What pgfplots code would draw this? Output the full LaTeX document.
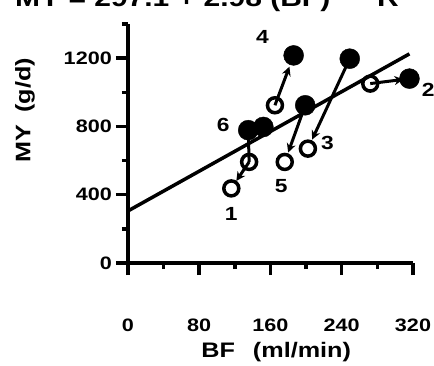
\documentclass[border=0pt]{standalone}
\usepackage{fontspec}
\setmainfont{Liberation Sans}[FakeStretch=1.2]
\usepackage{pgfplots}
\pgfplotsset{compat=1.18}
\usetikzlibrary{arrows.meta}
\begin{document}
\begin{tikzpicture}
\begin{axis}[
  at={(0pt,0pt)}, anchor=south west,
  scale only axis, width=285pt, height=239pt,
  xmin=0, xmax=320, ymin=0, ymax=1400,
  axis lines=left, axis line style={-, line width=3.5pt},
  xtick={0,80,160,240,320}, minor xtick={40,120,200,280},
  ytick={0,400,800,1200}, minor ytick={200,600,1000,1400},
  tick align=outside, major tick length=12pt, minor tick length=6pt,
  every tick/.style={black, line width=3.5pt},
  /pgf/number format/assume math mode=true,
  /pgf/number format/1000 sep={},
  tick label style={font=\bfseries\fontsize{18}{20}\selectfont, inner sep=0pt},
  xticklabel style={anchor=center, yshift=-50pt},
  yticklabel style={anchor=east, xshift=-4pt},
  xlabel={BF\hspace{18pt}(ml/min)},
  ylabel={MY\hspace{12pt}(g/d)},
  label style={font=\bfseries\fontsize{21}{23}\selectfont, inner sep=0pt},
  xlabel style={at={(axis description cs:0.52,0)}, anchor=center, yshift=-89pt},
  ylabel style={at={(axis description cs:-0.361,0.64)}, anchor=center},
  clip=false,
]
% regression line
\addplot[black, line width=3.5pt] coordinates {(0,305) (316,1225)};
% arrows between conditions
\addplot[black, line width=3pt] coordinates {(135,778) (136,592)};
\addplot[black, line width=3pt, -{Stealth[length=9pt,width=9pt]}, shorten >=9pt] coordinates {(136,592) (116,437)};
\addplot[black, line width=3pt, -{Stealth[length=9pt,width=9pt]}, shorten >=12pt] coordinates {(165,924) (186,1216)};
\addplot[black, line width=3pt, -{Stealth[length=9pt,width=9pt]}, shorten >=6pt] coordinates {(272,1051) (316,1080)};
\addplot[black, line width=3pt, -{Stealth[length=9pt,width=9pt]}, shorten >=10pt] coordinates {(249,1197) (202,670)};
\addplot[black, line width=3pt, -{Stealth[length=9pt,width=9pt]}, shorten >=10pt] coordinates {(199,924) (176,592)};
% open circles
\addplot[only marks, mark=o, mark size=7.5pt, mark options={line width=3.5pt, fill=white, draw=black}] coordinates {
 (116,437) (136,592) (165,924) (272,1051) (176,592) (202,670)};
% filled circles
\addplot[only marks, mark=*, mark size=10pt, mark options={fill=black, draw=black}] coordinates {
 (135,778) (152,797) (186,1216) (249,1197) (199,924) (316,1080)};
% subject numbers
\begin{scope}[font=\bfseries\fontsize{19}{21}\selectfont]
\node at (axis cs:116,290) {1};
\node at (axis cs:337,1012) {2};
\node at (axis cs:224,702) {3};
\node at (axis cs:151,1323) {4};
\node at (axis cs:172,450) {5};
\node at (axis cs:107,807) {6};
\end{scope}
\end{axis}
\node[anchor=base west, inner sep=0pt, font=\bfseries\fontsize{25}{27}\selectfont] at (-113pt,257pt) {MY = 297.1 + 2.98 (BF)};
\node[anchor=base west, inner sep=0pt, font=\bfseries\fontsize{25}{27}\selectfont] at (249pt,257pt) {R};
\pgfresetboundingbox
\path[use as bounding box] (-128pt,-102pt) rectangle (306pt,263pt);
\end{tikzpicture}
\end{document}
